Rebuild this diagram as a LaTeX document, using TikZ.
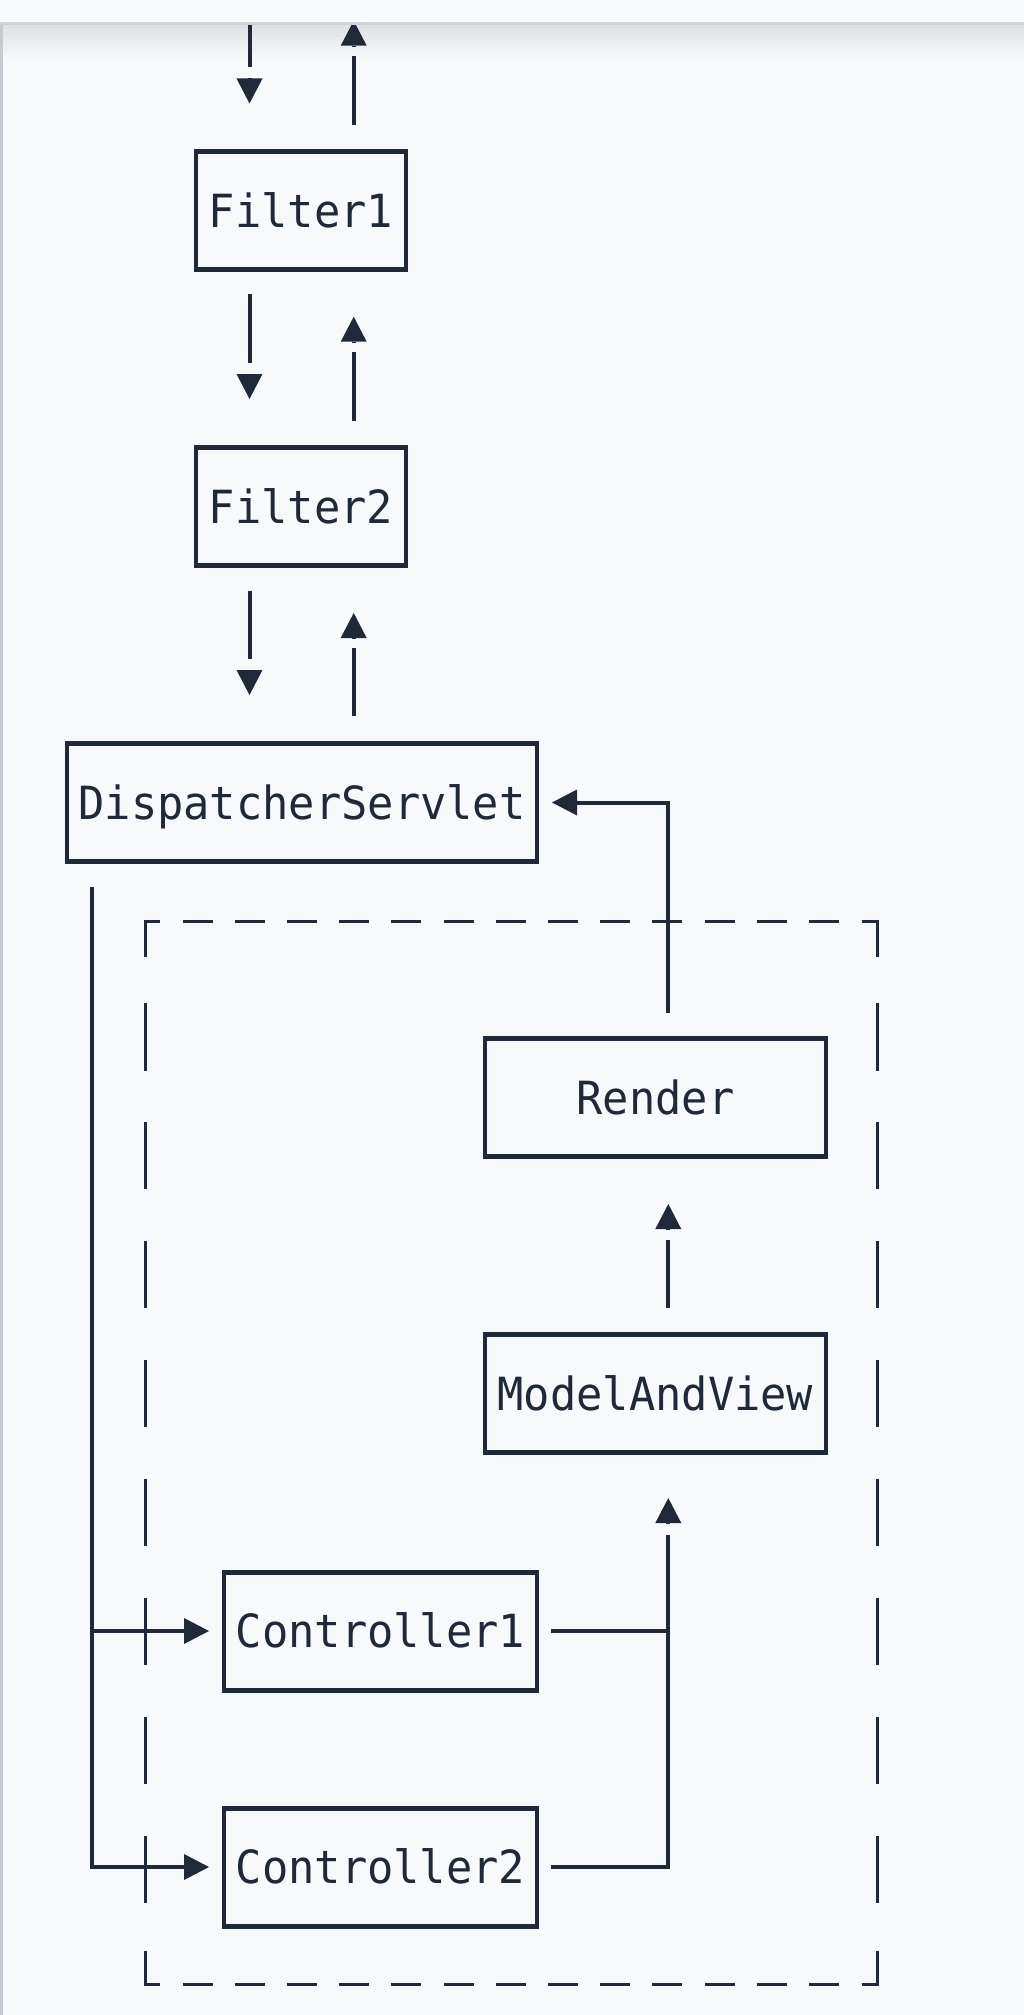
\documentclass[tikz,border=0pt]{standalone}
\usepackage{fontspec}
\newfontfamily\monof[FakeStretch=0.956]{DejaVu Sans Mono}
\usetikzlibrary{arrows.meta,calc}
\definecolor{ink}{RGB}{31,41,55}
\definecolor{bgc}{RGB}{248,249,251}
\definecolor{bandline}{RGB}{207,209,216}
\definecolor{edgeline}{RGB}{200,202,210}
\definecolor{shadowc}{RGB}{224,225,228}
% line from #1 to #2 that stops #3 before #2, then a separate head ending at #2
\newcommand\gaparrow[3]{%
  \draw[conn, shorten >=#3] (#1) -- (#2);
  \draw[conn, head] ($(#2)!25.5pt!(#1)$) -- (#2);}
\begin{document}
\begin{tikzpicture}[x=1pt,y=-1pt,
  box/.style={draw=ink, line width=3.2pt, minimum height=118pt, inner sep=0pt, outer sep=0pt,
    text height=33.3pt, text depth=0pt, text=ink, font=\monof\fontsize{45.7pt}{50pt}\selectfont},
  conn/.style={draw=ink, line width=4pt},
  head/.style={-{Triangle[length=25pt,width=26pt,line width=0pt]}},
  dashseg/.style={draw=ink, line width=3pt}
]
\fill[bgc] (0,0) rectangle (1024,2015);
\useasboundingbox (0,0) rectangle (1024,2015);
% shadow under the top band
\foreach \i [evaluate=\i as \p using int(100-12*\i)] in {0,...,7}
  \fill[shadowc!\p!bgc] (3,{25+4*\i}) rectangle (1024,{29+4*\i});

% boxes
\node[box, minimum width=210pt] (F1) at (301,210.5) {Filter1};
\node[box, minimum width=210pt] (F2) at (301,506.5) {Filter2};
\node[box, minimum width=470pt] (DS) at (302,802.5) {DispatcherServlet};
\node[box, minimum width=341pt] (Render) at (655.5,1097.5) {Render};
\node[box, minimum width=341pt] (MAV) at (655.5,1393.5) {ModelAndView};
\node[box, minimum width=313pt] (C1) at (380.5,1631) {Controller1};
\node[box, minimum width=313pt] (C2) at (380.5,1867) {Controller2};
\foreach \n in {F1,F2,DS,Render,MAV,C1,C2}{
  \draw[ink, line width=5pt] ($(\n.north west)+(-1.6,0)$) -- ($(\n.north east)+(1.6,0)$);
  \draw[ink, line width=5pt] ($(\n.south west)+(-1.6,0)$) -- ($(\n.south east)+(1.6,0)$);
}

% dashed group
\foreach \k in {0,...,12}{
  \draw[dashseg] ({182.5+52.2*\k},921.5) -- ++(30,0);
  \draw[dashseg] ({182.5+52.2*\k},1984.3) -- ++(30,0);
}
\foreach \j in {0,...,7}{
  \draw[dashseg] (145,{1003+118.95*\j}) -- ++(0,67.5);
  \draw[dashseg] (877.3,{1003+118.95*\j}) -- ++(0,67.5);
}
\draw[dashseg] (145,957) -- (145,921.5) -- (160,921.5);
\draw[dashseg] (861.5,921.5) -- (877.3,921.5) -- (877.3,957);
\draw[dashseg] (145,1951) -- (145,1984.3) -- (160,1984.3);
\draw[dashseg] (861.5,1984.3) -- (877.3,1984.3) -- (877.3,1951);

% connector end points
\coordinate (inTop) at (249.5,0);
\coordinate (outTop) at (353.7,20.7);
\coordinate (aS) at ($(F1.north)+(-51.5,-48)$);
\coordinate (bS) at ($(F1.north)+(52.7,-26.8)$);
\coordinate (cS) at ($(F1.south)+(-51.5,24)$);
\coordinate (cE) at ($(F2.north)+(-51.5,-48.5)$);
\coordinate (dS) at ($(F2.north)+(52.7,-26.8)$);
\coordinate (dE) at ($(F1.south)+(52.7,47.2)$);
\coordinate (eS) at ($(F2.south)+(-51.5,25)$);
\coordinate (eE) at ($(DS.north)+(-52.5,-48.5)$);
\coordinate (fS) at ($(DS.north)+(51.7,-27.5)$);
\coordinate (fE) at ($(F2.south)+(52.7,47.5)$);
\coordinate (gS) at ($(MAV.north)+(12.8,-26.2)$);
\coordinate (gE) at ($(Render.south)+(12.8,47.5)$);
\coordinate (mavin) at ($(MAV.south)+(12.8,45.5)$);
\coordinate (c2out) at ($(C2.east)+(14,0)$);
\coordinate (c2turn) at (c2out -| mavin);

% connectors
\gaparrow{inTop}{aS}{36pt}
\gaparrow{bS}{outTop}{35.5pt}
\gaparrow{cS}{cE}{36pt}
\gaparrow{dS}{dE}{35.5pt}
\gaparrow{eS}{eE}{36pt}
\gaparrow{fS}{fE}{35pt}

\draw[conn, head] ($(Render.north)+(12.8,-25.8)$) |- ($(DS.east)+(15,0)$);
\gaparrow{gS}{gE}{36pt}

\draw[conn, shorten >=37pt] (c2out) -| (mavin);
\draw[conn, head] ($(mavin)!25.5pt!(c2turn)$) -- (mavin);
\draw[conn] ($(C1.east)+(14,0)$) -- (C1.east -| mavin);

\coordinate (dsout) at ($(DS.south west)+(25.3,25.5)$);
\draw[conn, head] (dsout) |- ($(C2.west)+(-15,0)$);
\draw[conn, head] (dsout |- C1.west) -- ($(C1.west)+(-15,0)$);

% top band and left edge
\fill[bgc] (0,0) rectangle (1024,22);
\fill[bandline] (0,22) rectangle (1024,25);
\fill[edgeline] (0,25) rectangle (3,2015);
\end{tikzpicture}
\end{document}
